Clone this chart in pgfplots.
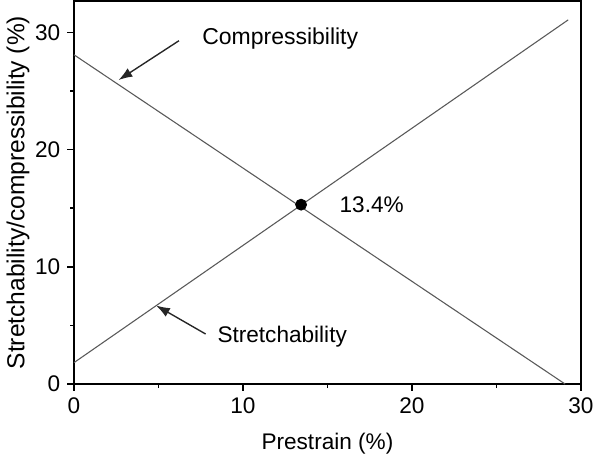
\documentclass[border=0pt]{standalone}
\usepackage{pgfplots}
\pgfplotsset{compat=1.18}
\usepackage{fontspec}
\setmainfont{Liberation Sans}
\usetikzlibrary{arrows.meta}
\begin{document}
\begin{tikzpicture}
\begin{axis}[
  width=258pt, height=195pt, scale only axis,
  xmin=0, xmax=30, ymin=0, ymax=32.67,
  xtick={0,10,20,30}, ytick={0,10,20,30},
  minor xtick={5,15,25}, minor ytick={5,15,25},
  tick align=outside, tick pos=left,
  major tick length=3.5pt, minor tick length=2pt,
  axis line style={line width=1pt},
  every tick/.style={black, line width=0.8pt},
  ticklabel style={font=\fontsize{11.5}{13}\selectfont},
  /pgf/number format/assume math mode=true,
  xlabel={Prestrain (\%)}, ylabel={Stretchability/compressibility (\%)},
  xlabel style={font=\fontsize{11.5}{13}\selectfont, yshift=-3pt},
  ylabel style={font=\fontsize{12.5}{14}\selectfont, yshift=-4pt},
  clip=false,
]
\addplot[color=black!65, line width=0.55pt] coordinates {(0,1.83) (29.25,31.06)};
\addplot[color=black!65, line width=0.55pt] coordinates {(0,28.08) (29.07,0)};
\addplot[only marks, mark=*, mark size=2.8pt, black] coordinates {(13.44,15.3)};
\draw[-{Latex[length=7pt,width=5pt]}, line width=0.7pt, black!85] (axis cs:6.21,29.28) -- (axis cs:2.64,25.93);
\draw[-{Latex[length=7pt,width=5pt]}, line width=0.7pt, black!85] (axis cs:7.79,4.27) -- (axis cs:4.86,6.70);
\node[anchor=west, inner sep=0pt, font=\fontsize{11.7}{13}\selectfont] at (axis cs:7.57,29.5) {Compressibility};
\node[anchor=west, inner sep=0pt, font=\fontsize{11.5}{13}\selectfont] at (axis cs:8.47,4.01) {Stretchability};
\node[anchor=west, inner sep=0pt, font=\fontsize{11.5}{13}\selectfont] at (axis cs:15.7,15.3) {13.4\%};
\end{axis}
\end{tikzpicture}
\end{document}
